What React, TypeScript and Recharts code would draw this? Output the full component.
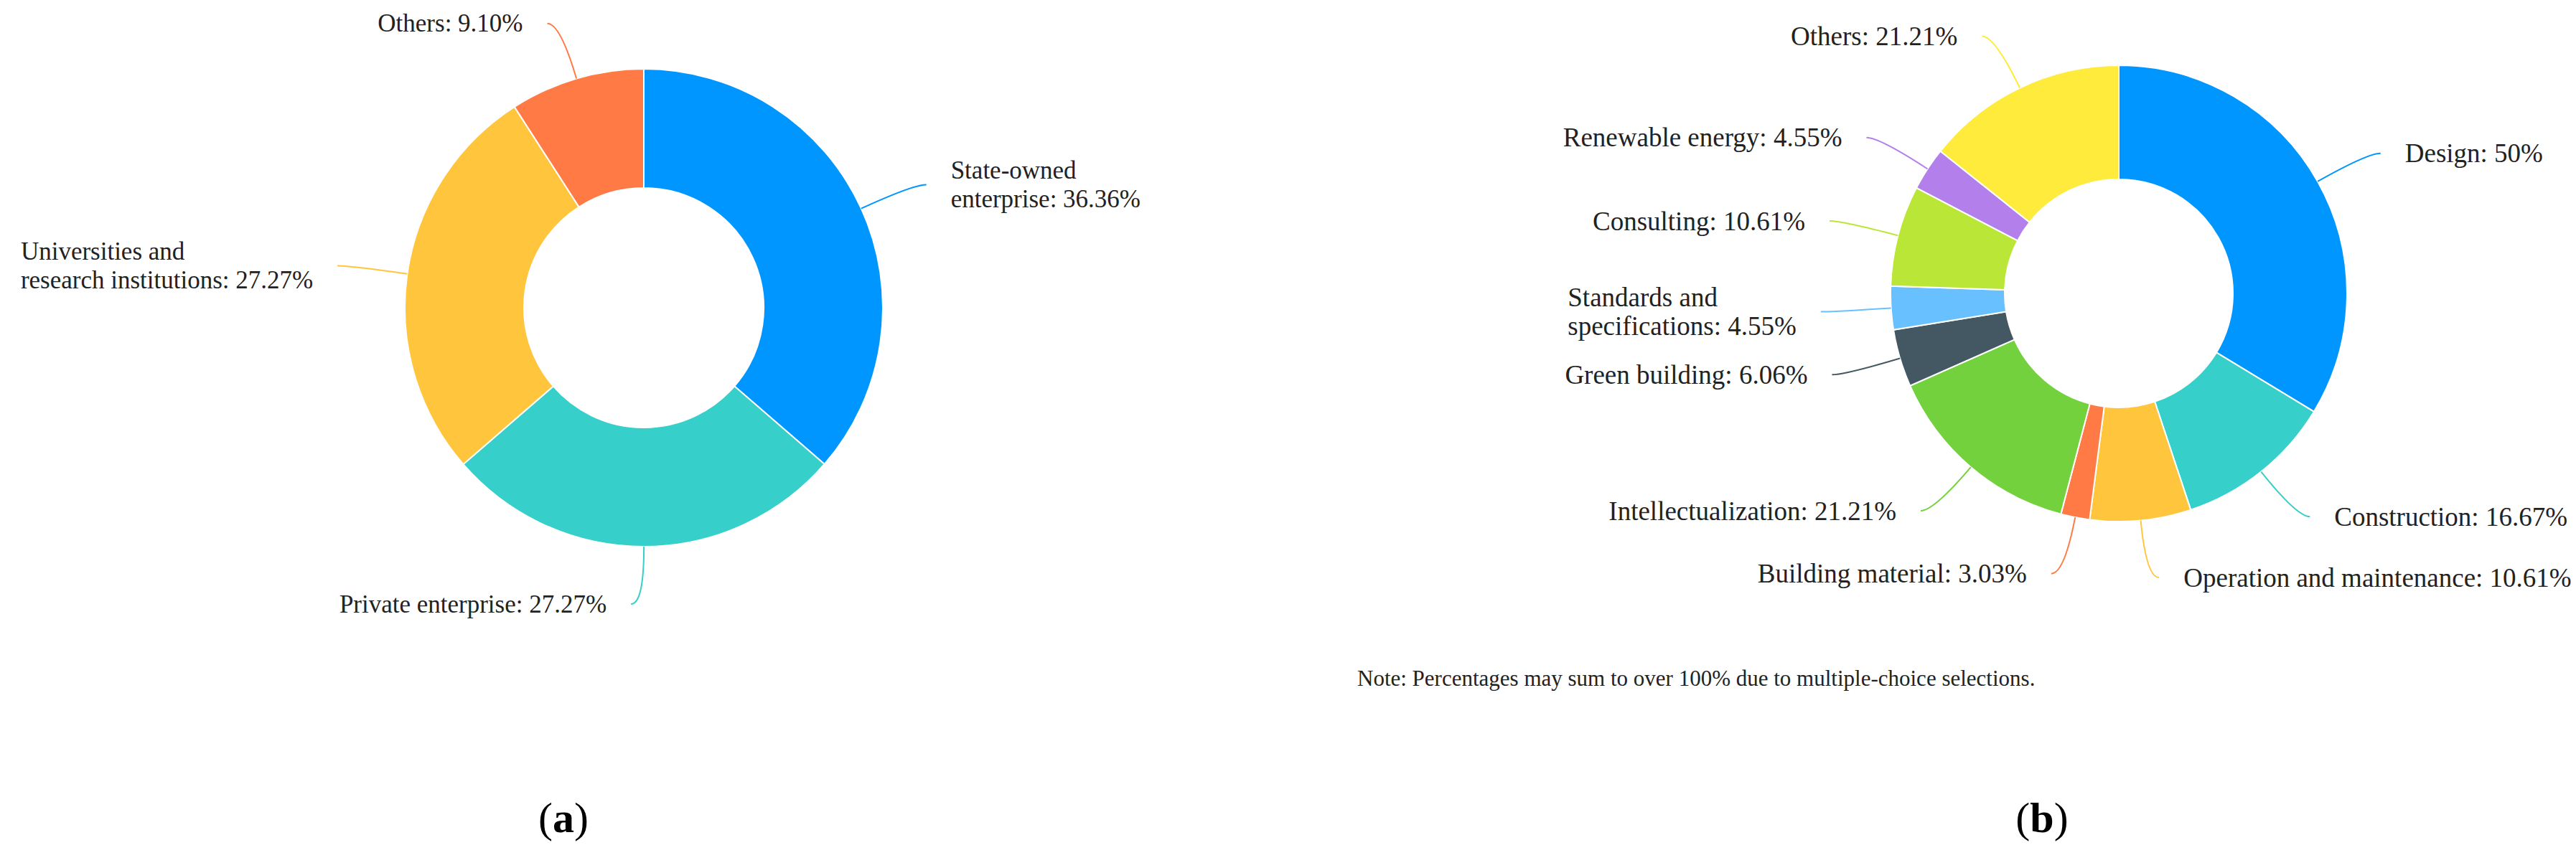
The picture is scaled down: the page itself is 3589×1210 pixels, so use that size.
import React from "react";
import { PieChart, Pie, Cell } from "recharts";

// (a) respondents by organisation type
const ORG_NAMES = [
  "State-owned\nenterprise",
  "Private enterprise",
  "Universities and\nresearch institutions",
  "Others",
];
const ORG_VALUES = [36.36, 27.27, 27.27, 9.1];
const ORG_COLORS = ["#0096ff", "#36cfc9", "#ffc53d", "#ff7a45"];

// (b) fields of work (multiple choice)
const FIELD_NAMES = [
  "Design",
  "Construction",
  "Operation and maintenance",
  "Building material",
  "Intellectualization",
  "Green building",
  "Standards and\nspecifications",
  "Consulting",
  "Renewable energy",
  "Others",
];
const FIELD_VALUES = [50, 16.67, 10.61, 3.03, 21.21, 6.06, 4.55, 10.61, 4.55, 21.21];
const FIELD_COLORS = [
  "#0096ff",
  "#36cfc9",
  "#ffc53d",
  "#ff7a45",
  "#73d13d",
  "#435863",
  "#69c0ff",
  "#bae637",
  "#b37feb",
  "#ffeb3b",
];

const NOTE = "Note: Percentages may sum to over 100% due to multiple-choice selections.";

const FONT = "'Palatino Linotype', 'Book Antiqua', Palatino, 'Liberation Serif', serif";
const LINE_LEN = 80;
const LINE_LEN2 = 18;
const GAP = 34;

const fmt = (v: number) => (Number.isInteger(v) ? String(v) : v.toFixed(2));

// used to left-align multi-line labels that sit on the left side
let measureCtx: CanvasRenderingContext2D | null = null;
function textWidth(s: string, fontSize: number) {
  if (!measureCtx) measureCtx = document.createElement("canvas").getContext("2d");
  if (!measureCtx) return s.length * fontSize * 0.45;
  measureCtx.font = `${fontSize}px ${FONT}`;
  return measureCtx.measureText(s).width;
}

function makeLabel(names: string[], values: number[], colors: string[], fontSize: number, lineHeight: number) {
  return (props: any) => {
    const { cx, cy, midAngle, outerRadius, index } = props;
    const rad = Math.PI / 180;
    const cos = Math.cos(-midAngle * rad);
    const sin = Math.sin(-midAngle * rad);
    const x0 = cx + outerRadius * cos;
    const y0 = cy + outerRadius * sin;
    const x1 = cx + (outerRadius + LINE_LEN) * cos;
    const y1 = cy + (outerRadius + LINE_LEN) * sin;
    const right = cos > 0.01;
    const x2 = x1 + (right ? LINE_LEN2 : -LINE_LEN2);
    const lines = `${names[index]}: ${fmt(values[index])}%`.split("\n");
    const blockW = Math.max(...lines.map((l) => textWidth(l, fontSize)));
    const tx = right ? x2 + GAP : x2 - GAP - blockW;
    const y = y1 - ((lines.length - 1) * lineHeight) / 2;
    return (
      <g key={`lbl-${index}`}>
        <path
          d={`M${x0},${y0} Q${x1},${y1} ${x2},${y1}`}
          stroke={colors[index]}
          strokeWidth={2}
          fill="none"
        />
        <text x={tx} y={y} textAnchor="start" fontSize={fontSize} fontFamily={FONT} fill="#222">
          {lines.map((l, i) => (
            <tspan key={i} x={tx} y={y + i * lineHeight} dominantBaseline="central">
              {l}
            </tspan>
          ))}
        </text>
      </g>
    );
  };
}

export default function App() {
  const orgData = ORG_NAMES.map((name, i) => ({ name, value: ORG_VALUES[i] }));
  const fieldData = FIELD_NAMES.map((name, i) => ({ name, value: FIELD_VALUES[i] }));

  return (
    <div style={{ position: "absolute", left: 0, top: 0, width: 3589, height: 1210, background: "#fff" }}>
      <PieChart width={3589} height={1210} margin={{ top: 0, right: 0, bottom: 0, left: 0 }}>
        <Pie
          data={orgData}
          dataKey="value"
          nameKey="name"
          cx={897}
          cy={429}
          innerRadius={167}
          outerRadius={333}
          startAngle={90}
          endAngle={-270}
          stroke="#fff"
          strokeWidth={2}
          isAnimationActive={false}
          labelLine={false}
          label={makeLabel(ORG_NAMES, ORG_VALUES, ORG_COLORS, 35, 40)}
        >
          {orgData.map((d, i) => (
            <Cell key={`a-${i}`} fill={ORG_COLORS[i]} />
          ))}
        </Pie>
        <Pie
          data={fieldData}
          dataKey="value"
          nameKey="name"
          cx={2952}
          cy={409}
          innerRadius={159}
          outerRadius={318}
          startAngle={90}
          endAngle={-270}
          stroke="#fff"
          strokeWidth={2}
          isAnimationActive={false}
          labelLine={false}
          label={makeLabel(FIELD_NAMES, FIELD_VALUES, FIELD_COLORS, 37, 40)}
        >
          {fieldData.map((d, i) => (
            <Cell key={`b-${i}`} fill={FIELD_COLORS[i]} />
          ))}
        </Pie>
      </PieChart>
      <svg
        width={3589}
        height={1210}
        style={{ position: "absolute", left: 0, top: 0, pointerEvents: "none" }}
      >
        <text x={1891} y={945} fontSize={31} fontFamily={FONT} fill="#222" dominantBaseline="central">
          {NOTE}
        </text>
        <text x={785} y={1140} fontSize={60} fontFamily={FONT} fill="#000" textAnchor="middle" dominantBaseline="central">
          (<tspan fontWeight="bold">a</tspan>)
        </text>
        <text x={2845} y={1140} fontSize={60} fontFamily={FONT} fill="#000" textAnchor="middle" dominantBaseline="central">
          (<tspan fontWeight="bold">b</tspan>)
        </text>
      </svg>
    </div>
  );
}
